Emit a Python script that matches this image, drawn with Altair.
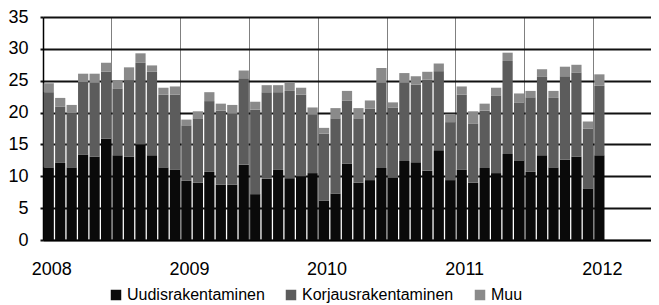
import altair as alt
import pandas as pd

series_names = ["Uudisrakentaminen", "Korjausrakentaminen", "Muu"]
series_colors = ["#0a0a0a", "#5c5c5c", "#8a8a8a"]

years = [2008, 2009, 2010, 2011, 2012]
all_months = [f"{y}-{m:02d}" for y in years for m in range(1, 13)][:53]

uudis = [11.4, 12.1, 11.4, 13.4, 13.1, 15.9, 13.3, 13.1, 15.0, 13.3, 11.4, 11.0,
         9.3, 9.0, 10.7, 8.7, 8.7, 11.8, 7.2, 9.6, 11.0, 9.7, 10.0, 10.5,
         6.2, 7.3, 12.0, 9.0, 9.4, 11.3, 9.8, 12.4, 12.2, 10.9, 14.1, 9.4,
         11.0, 9.0, 11.3, 10.5, 13.5, 12.5, 10.7, 13.3, 11.4, 12.6, 13.1, 8.1,
         13.3]
korjaus = [11.8, 8.8, 8.5, 11.4, 11.6, 10.5, 10.5, 12.0, 12.8, 13.1, 11.4, 11.8,
           8.7, 10.1, 11.1, 11.6, 11.1, 13.6, 13.3, 13.6, 12.2, 13.7, 12.8, 9.2,
           10.5, 11.8, 9.9, 10.1, 11.2, 13.4, 11.0, 12.3, 12.2, 14.3, 12.4, 9.1,
           11.8, 9.3, 9.0, 12.2, 14.6, 9.1, 11.7, 12.3, 10.9, 13.1, 13.2, 9.4,
           10.9]
muu = [1.4, 1.4, 1.3, 1.3, 1.4, 1.4, 1.3, 2.0, 1.5, 1.0, 1.1, 1.3,
       0.9, 1.1, 1.4, 1.1, 1.4, 1.2, 1.2, 1.1, 1.1, 1.4, 1.1, 1.1,
       0.9, 1.6, 1.5, 1.6, 1.3, 2.3, 0.8, 1.5, 1.3, 1.2, 1.2, 1.3,
       1.3, 1.9, 1.1, 1.2, 1.3, 1.4, 1.0, 1.2, 1.1, 1.5, 1.2, 1.1,
       1.8]

data_months = all_months[:len(uudis)]
rows = []
for k, vals in enumerate([uudis, korjaus, muu]):
    for m, v in zip(data_months, vals):
        rows.append({"month": m, "series": series_names[k], "value": v, "ord": k})
df = pd.DataFrame(rows)

grid_months = [m for m in all_months if m[5:7] in ("01", "07")]
FONT = "Liberation Sans"

chart = alt.Chart(df).mark_bar().encode(
    x=alt.X(
        "month:O",
        scale=alt.Scale(domain=all_months, paddingInner=0.11, paddingOuter=0.055),
        axis=alt.Axis(
            values=grid_months,
            bandPosition=-0.06,
            grid=True, gridColor="#808080", gridWidth=1,
            ticks=False,
            domain=True, domainColor="#000000", domainWidth=1.5,
            labelExpr="substring(datum.value, 5, 7) == '01' ? substring(datum.value, 0, 4) : ''",
            labelAngle=0, labelFontSize=18, labelFont=FONT, labelColor="#000000",
            labelOffset=3, labelPadding=20, labelOverlap=False, title=None,
        ),
    ),
    y=alt.Y(
        "value:Q",
        stack="zero",
        scale=alt.Scale(domain=[0, 35], nice=False),
        axis=alt.Axis(
            values=[0, 5, 10, 15, 20, 25, 30, 35],
            grid=True, gridColor="#111111", gridWidth=2,
            tickSize=3, tickColor="#111111", tickWidth=2,
            domainColor="#000000", domainWidth=1.5,
            labelFontSize=18, labelFont=FONT, labelColor="#000000",
            labelPadding=12, title=None,
        ),
    ),
    color=alt.Color(
        "series:N",
        scale=alt.Scale(domain=series_names, range=series_colors),
        legend=alt.Legend(
            orient="none", legendX=65, legendY=270, direction="horizontal",
            symbolType="square", symbolSize=110, symbolStrokeWidth=0,
            labelFontSize=16, labelFont=FONT, labelColor="#000000",
            labelOffset=3, columnPadding=18, title=None,
        ),
    ),
    order=alt.Order("ord:Q", sort="ascending"),
).properties(
    width=608,
    height=223,
    autosize=alt.AutoSizeParams(type="none"),
    padding={"left": 35, "top": 9, "right": 0, "bottom": 65},
    background="#ffffff",
).configure_view(strokeWidth=0)

chart.save("out.html", embed_options={"renderer": "svg", "actions": False})
